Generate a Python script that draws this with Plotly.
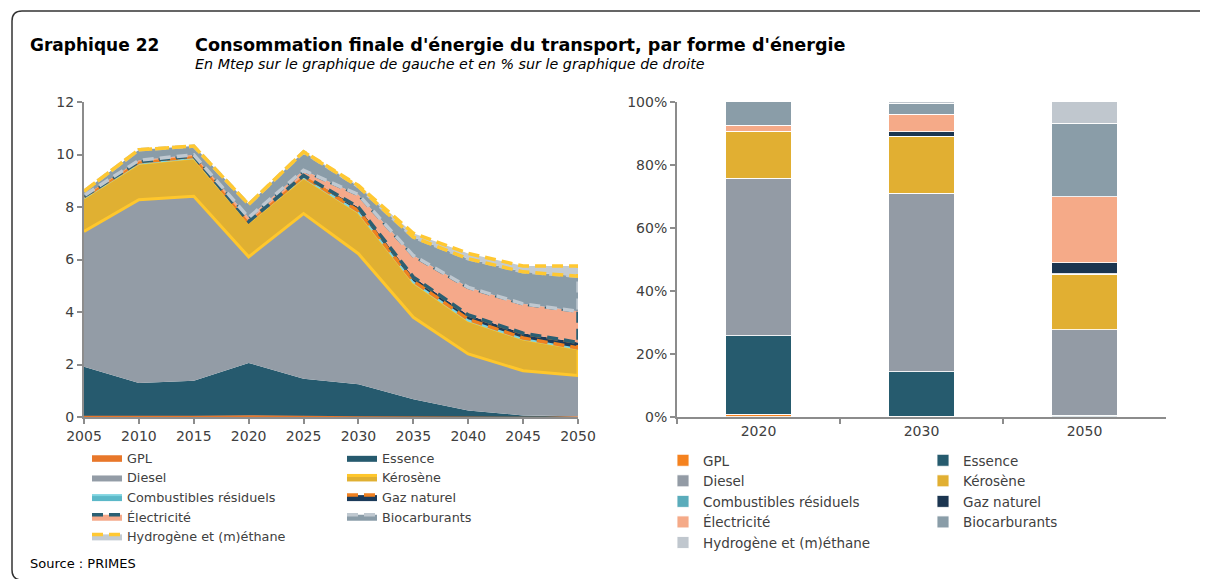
import plotly.graph_objects as go
import numpy as np

# ---------------- data ----------------
years = [2005, 2010, 2015, 2020, 2025, 2030, 2035, 2040, 2045, 2050]
gpl = [0.05, 0.05, 0.05, 0.07, 0.05, 0.03, 0.02, 0.01, 0.01, 0.01]
essence = [1.86, 1.25, 1.33, 1.99, 1.41, 1.22, 0.66, 0.24, 0.05, 0.02]
diesel = [5.16, 6.98, 7.03, 4.04, 6.29, 4.97, 3.12, 2.15, 1.70, 1.55]
kerosene = [1.27, 1.38, 1.46, 1.31, 1.37, 1.58, 1.33, 1.27, 1.21, 1.02]
residuels = [0.05, 0.05, 0.05, 0.03, 0.05, 0.05, 0.05, 0.05, 0.04, 0.03]
gaz = [0.01, 0.02, 0.02, 0.01, 0.03, 0.14, 0.15, 0.17, 0.18, 0.21]
elec = [0.03, 0.05, 0.05, 0.15, 0.20, 0.48, 0.82, 1.05, 1.12, 1.19]
biocarb = [0.17, 0.40, 0.33, 0.50, 0.70, 0.31, 0.70, 1.09, 1.22, 1.33]
hydro = [0.0, 0.0, 0.0, 0.0, 0.01, 0.04, 0.15, 0.20, 0.22, 0.39]

share_years = ["2020", "2030", "2050"]
s_gpl = [0.85, 0.3, 0.1]
s_essence = [24.85, 14.0, 0.4]
s_diesel = [50.0, 56.6, 27.2]
s_kerosene = [15.0, 18.0, 17.6]
s_residuels = [0.0, 0.1, 0.1]
s_gaz = [0.0, 1.5, 3.6]
s_elec = [1.9, 5.5, 20.8]
s_biocarb = [7.4, 3.5, 23.3]
s_hydro = [0.0, 0.5, 6.9]

y_ticks = [0, 2, 4, 6, 8, 10, 12]
pct_ticks = [0, 20, 40, 60, 80, 100]
pct_labels = ["0%", "20%", "40%", "60%", "80%", "100%"]

names = ["GPL", "Essence", "Diesel", "Kérosène", "Combustibles résiduels",
         "Gaz naturel", "Électricité", "Biocarburants", "Hydrogène et (m)éthane"]

# ---------------- styles ----------------
FONT = "DejaVu Sans"
TXT = "#404040"
AX = "#8c8c8c"
# the page body has an 8px margin: figure is shrunk and coordinates shifted
OFF = 8
W, H = 1208 - OFF, 579 - OFF

DASH = "11px,6px"
area_fill = ["#E8772A", "#265A6E", "#939CA6", "#E0B032", "#5BB8C8",
             "#1B3A5A", "#F5A98A", "#8A9CA8", "#C3CBD2"]
area_line = [dict(color="#E8772A", width=1),
             dict(color="#265A6E", width=0),
             dict(color="#939CA6", width=0),
             dict(color="#FFC72C", width=3),
             dict(color="#7FD4E0", width=2),
             dict(color="#F08020", width=3.5, dash=DASH),
             dict(color="#2A5F73", width=3.5, dash=DASH),
             dict(color="#BFC8D0", width=3.5, dash=DASH),
             dict(color="#FFC832", width=3.5, dash=DASH)]
bar_colors = ["#F5821F", "#265B6E", "#939BA5", "#E1AF32", "#5AACBB",
              "#1B3550", "#F5AA88", "#8A9DA8", "#C0C7CE"]

left_legend = ["legend", "legend2", "legend", "legend2", "legend",
               "legend2", "legend", "legend2", "legend"]
right_legend = ["legend3", "legend4", "legend3", "legend4", "legend3",
                "legend4", "legend3", "legend4", "legend3"]

fig = go.Figure()

# ---------------- left: stacked areas drawn as outlined polygons ----------------
series = [gpl, essence, diesel, kerosene, residuels, gaz, elec, biocarb, hydro]
bottom = np.zeros(len(years))
for i, s in enumerate(series):
    top = bottom + np.array(s)
    xs = list(years) + list(years[::-1])
    ys = list(top) + list(bottom[::-1])
    fig.add_trace(go.Scatter(
        x=xs, y=ys, fill="toself", fillcolor=area_fill[i], mode="lines",
        line=area_line[i], name=names[i], legend=left_legend[i],
        xaxis="x", yaxis="y", hoverinfo="skip"))
    bottom = top

# ---------------- right: 100% stacked bars ----------------
shares = [s_gpl, s_essence, s_diesel, s_kerosene, s_residuels, s_gaz,
          s_elec, s_biocarb, s_hydro]
for i, s in enumerate(shares):
    fig.add_trace(go.Bar(
        x=share_years, y=s, name=names[i], marker_color=bar_colors[i],
        marker_line=dict(color="rgba(255,255,255,0.85)", width=1),
        legend=right_legend[i], xaxis="x2", yaxis="y2", width=0.4))


def px(x):
    return (x - OFF) / W


def py(y):
    return 1 - (y - OFF) / H


axis_common = dict(showline=True, linecolor=AX, linewidth=2, ticks="outside",
                   tickcolor=AX, tickwidth=2, ticklen=5, showgrid=False,
                   zeroline=False, automargin=False,
                   tickfont=dict(family=FONT, size=14, color=TXT))


def leg(x, y, size):
    return dict(x=px(x), y=py(y), xanchor="left", yanchor="top", orientation="v",
                font=dict(family=FONT, size=size, color=TXT), bgcolor="rgba(0,0,0,0)",
                traceorder="normal", tracegroupgap=0,
                itemclick=False, itemdoubleclick=False)


fig.update_layout(
    template="none",
    width=W, height=H, margin=dict(l=0, r=0, t=0, b=0, pad=0, autoexpand=False),
    paper_bgcolor="white", plot_bgcolor="white",
    barmode="stack", showlegend=True,
    xaxis=dict(domain=[px(84), px(578)], range=[2005, 2050],
               tickvals=years, ticktext=[str(y) for y in years], anchor="y",
               **axis_common),
    yaxis=dict(domain=[py(417), py(102)], range=[0, 12], tickvals=y_ticks,
               ticktext=[str(v) for v in y_ticks], anchor="x", **axis_common),
    xaxis2=dict(domain=[px(677), px(1166)], type="category", tickson="boundaries",
                anchor="y2", **axis_common),
    yaxis2=dict(domain=[py(417), py(101.7)], range=[0, 100], tickvals=pct_ticks,
                ticktext=pct_labels, anchor="x2", **axis_common),
    legend=leg(87, 443, 12.8),
    legend2=leg(342, 443, 12.8),
    legend3=leg(663, 445, 13.5),
    legend4=leg(923, 445, 13.5),
)

# ---------------- texts ----------------
fig.add_annotation(x=px(28), y=py(45), xref="paper", yref="paper", xanchor="left",
                   yanchor="middle", showarrow=False, text="<b>Graphique 22</b>",
                   font=dict(family=FONT, size=17, color="black"))
fig.add_annotation(x=px(193), y=py(45), xref="paper", yref="paper", xanchor="left",
                   yanchor="middle", showarrow=False,
                   text="<b>Consommation finale d'énergie du transport, par forme d'énergie</b>",
                   font=dict(family=FONT, size=17.6, color="black"))
fig.add_annotation(x=px(193), y=py(64), xref="paper", yref="paper", xanchor="left",
                   yanchor="middle", showarrow=False,
                   text="<i>En Mtep sur le graphique de gauche et en % sur le graphique de droite</i>",
                   font=dict(family=FONT, size=14.3, color="black"))
fig.add_annotation(x=px(28), y=py(563), xref="paper", yref="paper", xanchor="left",
                   yanchor="middle", showarrow=False, text="Source : PRIMES",
                   font=dict(family=FONT, size=13, color="black"))

# frame with rounded left corners
path = (f"M {px(1212)},{py(11)} L {px(22)},{py(11)} Q {px(12)},{py(11)} {px(12)},{py(21)} "
        f"L {px(12)},{py(570)} Q {px(12)},{py(580)} {px(22)},{py(580)} L {px(1212)},{py(580)}")
fig.add_shape(type="path", path=path, xref="paper", yref="paper",
              line=dict(color="#333333", width=1.5))

fig.write_html("out.html")
